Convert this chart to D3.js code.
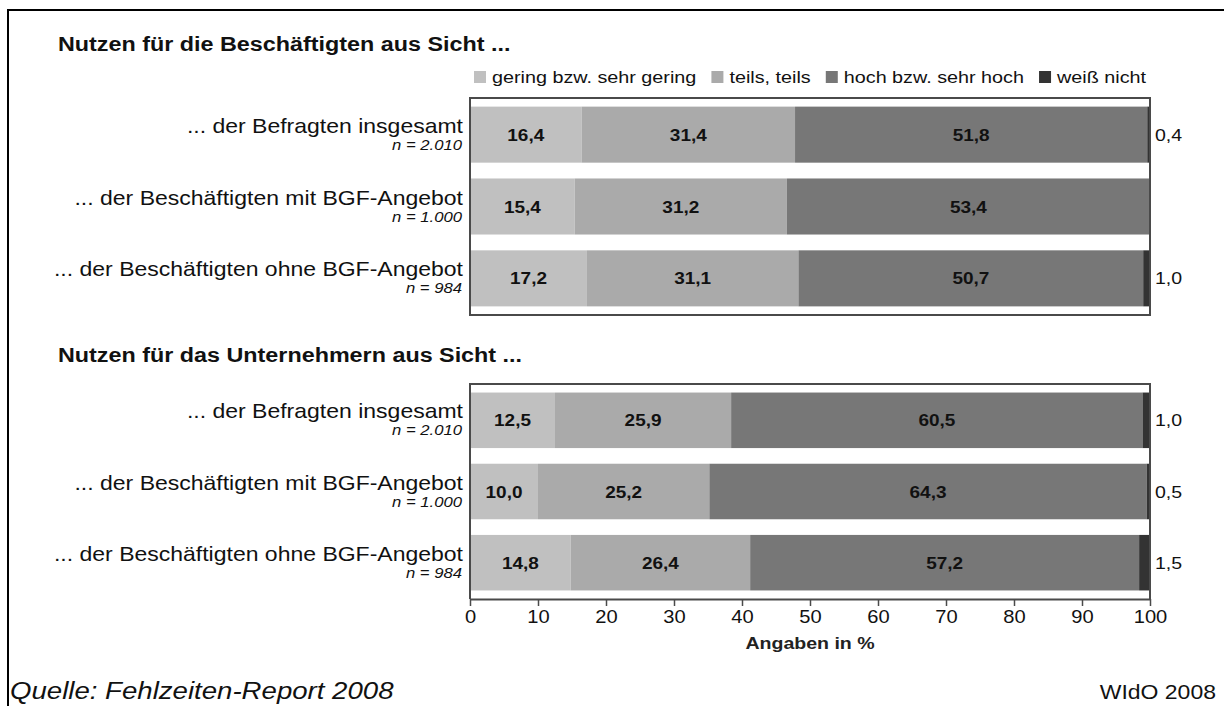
<!DOCTYPE html>
<html><head><meta charset="utf-8">
<script src="https://cdn.jsdelivr.net/npm/d3@7"></script>
<style>body{margin:0;background:#fff}svg{display:block;font-family:"Liberation Sans",Arial,sans-serif}</style>
</head><body><svg id="c" width="1224" height="706"></svg>
<script>
const groupTitles = ["Nutzen für die Beschäftigten aus Sicht ...", "Nutzen für das Unternehmern aus Sicht ..."];
const categories = ["... der Befragten insgesamt", "... der Beschäftigten mit BGF-Angebot", "... der Beschäftigten ohne BGF-Angebot"];
const sampleSizes = ["n = 2.010", "n = 1.000", "n = 984"];
const seriesNames = ["gering bzw. sehr gering", "teils, teils", "hoch bzw. sehr hoch", "weiß nicht"];
const colors = ["#c0c0c0", "#aaaaaa", "#777777", "#333333"];
// group 1: Beschäftigte
const g1Gering = [16.4, 15.4, 17.2];
const g1Teils = [31.4, 31.2, 31.1];
const g1Hoch = [51.8, 53.4, 50.7];
const g1Weiss = [0.4, 0, 1.0];
// group 2: Unternehmen
const g2Gering = [12.5, 10.0, 14.8];
const g2Teils = [25.9, 25.2, 26.4];
const g2Hoch = [60.5, 64.3, 57.2];
const g2Weiss = [1.0, 0.5, 1.5];
const xTicks = [0,10,20,30,40,50,60,70,80,90,100];

const svg = d3.select("#c");
const SX = 1.15; // horizontal stretch of text as in the reference
const fmt = v => v.toFixed(1).replace(".", ",");
const x = d3.scaleLinear().domain([0,100]).range([470,1150]);

function txt(parent, px, py, str, o = {}) {
  const g = parent.append("g").attr("transform", `translate(${px},${py}) scale(${SX},1)`);
  const t = g.append("text").attr("x",0).attr("y",0)
    .attr("font-size", o.size || 16)
    .attr("font-weight", o.bold ? "bold" : "normal")
    .attr("font-style", o.italic ? "italic" : "normal")
    .attr("text-anchor", o.anchor || "start")
    .attr("fill", o.fill || "#111").text(str);
  return t;
}

// outer frame
svg.append("path").attr("d","M8,706 L8,10 L1224,10").attr("fill","none").attr("stroke","#000").attr("stroke-width",2);

function panel(title, titleY, y0, y1, series, boxBottom) {
  txt(svg, 58, titleY, title, {size:20.3, bold:true});
  const y = d3.scaleBand().domain(categories).range([y0,y1]).paddingInner(0.22).paddingOuter(0.12);
  const rows = categories.map((c,i)=>({cat:c, n:sampleSizes[i], vals: series.map(s=>s[i])}));
  const stackData = rows.map(r=>{ let acc=0; return r.vals.map((v,k)=>{const o={x0:acc,x1:acc+v,v,k}; acc+=v; return o;}); });
  rows.forEach((r,i)=>{
    const g = svg.append("g");
    const cy = y(r.cat)+y.bandwidth()/2;
    g.selectAll("rect").data(stackData[i].filter(d=>d.v>0)).join("rect")
      .attr("x",d=>x(d.x0)).attr("width",d=>x(d.x1)-x(d.x0))
      .attr("y",y(r.cat)).attr("height",y.bandwidth()).attr("fill",d=>colors[d.k]);
    stackData[i].filter(d=>d.k<3).forEach(d=>{
      txt(g, (x(d.x0)+x(d.x1))/2, cy+6, fmt(d.v), {size:16.5, bold:true, anchor:"middle"});
    });
    const w = stackData[i][3];
    if (w.v>0) txt(g, 1155, cy+6, fmt(w.v), {size:17});
    txt(svg, 463, cy-2, r.cat, {size:20, anchor:"end"});
    txt(svg, 462, cy+15, r.n, {size:14.5, italic:true, anchor:"end"});
  });
  const p = boxBottom ? `M${x(0)},${y1} L${x(0)},${y0} L${x(100)},${y0} L${x(100)},${y1} Z` : `M${x(0)},${y1} L${x(0)},${y0} L${x(100)},${y0} L${x(100)},${y1}`;
  svg.append("path").attr("d",p).attr("fill","none").attr("stroke","#4a4a4a").attr("stroke-width",2);
}

panel(groupTitles[0], 51, 98, 315, [g1Gering,g1Teils,g1Hoch,g1Weiss], true);
panel(groupTitles[1], 362, 384, 599, [g2Gering,g2Teils,g2Hoch,g2Weiss], false);

// axis
const ax = svg.append("g").attr("transform","translate(0,599)")
  .call(d3.axisBottom(x).tickValues(xTicks).tickSize(7).tickSizeOuter(0).tickPadding(5));
ax.select(".domain").attr("stroke","#4a4a4a").attr("stroke-width",2);
ax.selectAll(".tick line").attr("stroke","#4a4a4a").attr("stroke-width",1.5);
ax.selectAll(".tick text").attr("font-size",17.5).attr("fill","#111").attr("font-family","Liberation Sans, Arial, sans-serif")
  .attr("transform",`scale(${SX},1)`).attr("x",0);
txt(svg, x(50), 649, "Angaben in %", {size:17, bold:true, anchor:"middle", fill:"#222"});

// legend: laid out from the measured widths between 474 and 1146
const legStart = 474, legEnd = 1146, sq = 12, sqGap = 6, legY = 83;
const legItems = seriesNames.map((s,i)=>{
  const g = svg.append("g");
  g.append("rect").attr("y",legY-12).attr("width",sq).attr("height",sq).attr("fill",colors[i]);
  const t = txt(g, 0, legY, s, {size:17.2});
  return {g, t, w: t.node().getComputedTextLength()*SX};
});
const totalW = d3.sum(legItems, d=>sq+sqGap+d.w);
const gap = (legEnd-legStart-totalW)/(legItems.length-1);
let lx = legStart;
legItems.forEach(d=>{
  d.g.select("rect").attr("x",lx);
  d.t.node().parentNode.setAttribute("transform",`translate(${lx+sq+sqGap},${legY}) scale(${SX},1)`);
  lx += sq+sqGap+d.w+gap;
});

// footer
txt(svg, 10, 699, "Quelle: Fehlzeiten-Report 2008", {size:24, italic:true});
txt(svg, 1216, 699, "WIdO 2008", {size:20, anchor:"end"});
</script></body></html>
